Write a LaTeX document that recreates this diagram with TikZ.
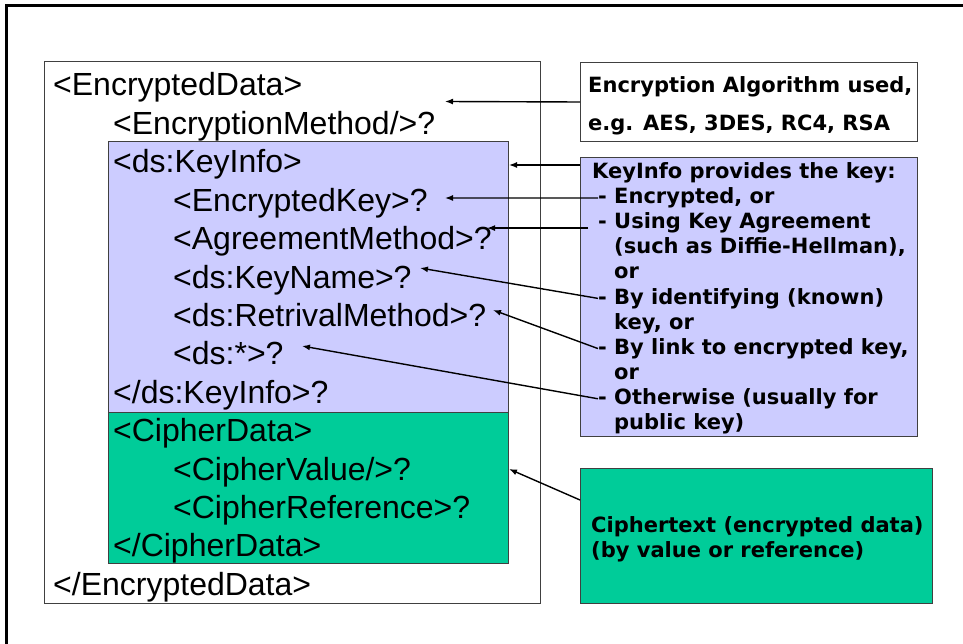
\documentclass[tikz,border=0pt]{standalone}
\usepackage{fontspec}
\setmainfont{Liberation Sans}
\newfontfamily\notefont{DejaVu Sans}
\usetikzlibrary{arrows.meta}

\definecolor{keyblue}{RGB}{204,204,255}
\definecolor{ciphergreen}{RGB}{0,204,153}

\begin{document}
\begin{tikzpicture}[x=1pt,y=-1pt,
	box/.style={draw=black!75, line width=1pt, anchor=north west, inner sep=0pt},
	xml/.style={anchor=base west, inner sep=0pt, font=\fontsize{32}{38}\selectfont},
	note/.style={anchor=base west, inner sep=0pt, font=\notefont\bfseries\fontsize{21}{25}\selectfont},
	pointer/.style={line width=1.4pt, -{Latex[length=8pt,width=6pt]}}]
	\useasboundingbox (0,0) rectangle (963,644);
	% slide frame
	\draw [line width=3pt] (6,660) -- (6,6) -- (980,6);

	% the EncryptedData element
	\node [box, minimum width=496pt, minimum height=542pt] (encbox) at (44,61) {};
	\node [box, fill=keyblue, minimum width=400pt, minimum height=271pt] (keybox) at (108,141) {};
	\node [box, fill=ciphergreen, minimum width=400pt, minimum height=151pt] (cipherbox) at (108,412) {};
	\node [xml] (encdata) at (53,96) {<EncryptedData>};
	\node [xml] (encmethod) at (113,134.4) {<EncryptionMethod/>?};
	\node [xml] (keyinfo) at (113,172.8) {<ds:KeyInfo>};
	\node [xml] (enckey) at (173,211.2) {<EncryptedKey>?};
	\node [xml] (agreement) at (173,249.6) {<AgreementMethod>?};
	\node [xml] (keyname) at (173,288) {<ds:KeyName>?};
	\node [xml] (retrieval) at (173,326.4) {<ds:RetrivalMethod>?};
	\node [xml] (anykey) at (173,364.8) {<ds:*>?};
	\node [xml] (keyinfoend) at (113,403.2) {</ds:KeyInfo>?};
	\node [xml] (cipherdata) at (113,441.6) {<CipherData>};
	\node [xml] (ciphervalue) at (173,480) {<CipherValue/>?};
	\node [xml] (cipherref) at (173,518.4) {<CipherReference>?};
	\node [xml] (cipherdataend) at (113,556.8) {</CipherData>};
	\node [xml] (encdataend) at (53,595.2) {</EncryptedData>};

	% notes on the right
	\node [box, fill=white, minimum width=337pt, minimum height=79pt] (algbox) at (580,62) {};
	\node [note] (alg1) at (588,92.6) {Encryption Algorithm used,};
	\node [note] (alg2) at (588,130.6) {e.g. AES, 3DES, RC4, RSA};

	\node [box, fill=keyblue, minimum width=337pt, minimum height=279pt] (infobox) at (580,157) {};
	\foreach \t/\x [count=\i] in {{KeyInfo provides the key:}/592, {- Encrypted, or}/598,
			{- Using Key Agreement}/598, {(such as Diffie-Hellman),}/614, or/614,
			{- By identifying (known)}/598, {key, or}/614, {- By link to encrypted key,}/598,
			or/614, {- Otherwise (usually for}/598, {public key)}/614}
		\node [note] (ki\i) at (\x,178.6+25.1*\i-25.1) {\t};

	\node [box, fill=ciphergreen, minimum width=352pt, minimum height=135pt] (textbox) at (580,468) {};
	\node [note] (ct1) at (591,532.6) {Ciphertext (encrypted data)};
	\node [note] (ct2) at (591,557.6) {(by value or reference)};

	% arrow ends
	\coordinate (algtip) at (445,101.5);
	\coordinate (kistart) at ([yshift=-8pt]infobox.north west);
	\coordinate (ektip) at (445,198);
	\coordinate (agstart) at ([xshift=-10pt,yshift=-5pt]ki3.west);
	\coordinate (knametip) at (420,268);
	\coordinate (rmtip) at (493,310);
	\coordinate (anytip) at (302,346);
	\coordinate (cvstart) at ([yshift=-32pt]textbox.north west);

	\draw [pointer] (algbox.west) -- (algtip);
	\draw [pointer] (kistart) -- (kistart -| keybox.east);
	\draw [pointer] (ki2.west) -- (ektip);
	\draw [pointer] (agstart) -- (agstart -| 487,0);
	\draw [pointer] (ki6.west) -- (knametip);
	\draw [pointer] (ki8.west) -- (rmtip);
	\draw [pointer] (ki10.west) -- (anytip);
	\draw [pointer] (cvstart) -- (cipherbox.east |- 0,469);
\end{tikzpicture}
\end{document}
